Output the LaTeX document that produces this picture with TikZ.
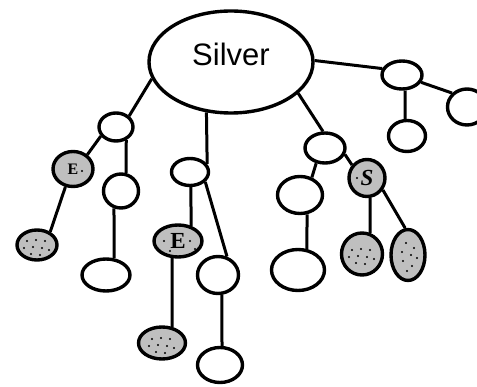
\documentclass[tikz,border=0pt]{standalone}
\usepackage{fontspec}
\setmainfont{Liberation Serif}
\newfontfamily\silverfont{Liberation Sans}
\usetikzlibrary{shapes.geometric}
\tikzstyle{knot}=[ellipse, draw, line width=3.4pt, inner sep=0pt, fill=white]
\tikzstyle{greyknot}=[knot, fill=black!25]
\tikzset{specks/.style={path picture={
    \foreach \dx/\dy in {#1}
        \fill[black] (path picture bounding box.center) ++(\dx,\dy) circle (1.1pt);}},
    manyspecks/.style={specks={-10/-4, -1/-5, 8/-4, -13/3, -4/2, 5/3, 12/5, -6/9, 3/10}}}
\newcommand{\knot}{\node[knot]}
\newcommand{\greyknot}{\node[greyknot]}

\begin{document}
\begin{tikzpicture}[x=1pt, y=-1pt
    ,every edge/.style={draw, line width=3pt}
]
\useasboundingbox (0,0) rectangle (477,387);
\knot[minimum width=164pt, minimum height=102pt] (silver) at (231,62)
    {\silverfont\fontsize{31}{36}\selectfont\raisebox{-4pt}[0pt][0pt]{Silver}};
% left branch
\knot[minimum width=34pt, minimum height=28pt] (a) at (116,127) {};
\greyknot[minimum width=40pt, minimum height=35pt, specks={9/2}] (e1) at (73,169)
    {\fontsize{16}{18}\selectfont\bfseries E};
\greyknot[minimum width=40pt, minimum height=30pt, manyspecks] (a1) at (37,245) {};
\knot[minimum width=35pt, minimum height=34pt] (b) at (121,191) {};
\knot[minimum width=48pt, minimum height=32pt] (b1) at (106,275) {};
% middle branch
\knot[minimum width=37pt, minimum height=27pt] (c) at (190,172) {};
\greyknot[minimum width=48pt, minimum height=32pt, specks={-14/0, 12/0, -8/10, 17/8}] (e2) at (178,241)
    {\fontsize{23}{26}\selectfont\bfseries E};
\greyknot[minimum width=47pt, minimum height=32pt, manyspecks] (e2d) at (162,343) {};
\knot[minimum width=41pt, minimum height=37pt] (d) at (218,275) {};
\knot[minimum width=45pt, minimum height=35pt] (d1) at (220,365) {};
% right branch
\knot[minimum width=40pt, minimum height=30pt] (f) at (325,148) {};
\greyknot[minimum width=36pt, minimum height=37pt, specks={-10/0}] (s) at (367,178)
    {\fontsize{23}{26}\selectfont\bfseries\itshape S};
\knot[minimum width=45pt, minimum height=37pt] (g) at (300,195) {};
\knot[minimum width=53pt, minimum height=41pt] (g1) at (298,270) {};
\greyknot[minimum width=41pt, minimum height=42pt, manyspecks] (s1) at (362,254) {};
\greyknot[minimum width=34pt, minimum height=51pt, specks={-2/-12, 6/-7, -6/-3, 3/0, 9/3, -5/6, 4/11, -1/16}] (s2) at (408,255) {};
% top right
\knot[minimum width=40pt, minimum height=28pt] (h) at (402,75) {};
\knot[minimum width=37pt, minimum height=31pt] (h1) at (407,136) {};
\knot[minimum width=39pt, minimum height=36pt] (i) at (467,107) {};
\path
(silver.192) edge (a.40)
(silver.244) edge (c.25)
(silver.-25) edge (f.97)
(silver.1) edge (h.162)
(a.211) edge (e1.45)
(a.-52) edge (b.74)
(e1.247) edge (a1.45)
(b.248) edge (b1.64)
(c.-87) edge (e2.49)
(c.-33) edge (d.64)
(e2.251) edge (e2d.58)
(d.-79) edge (d1.84)
(f.-18) edge (s.139)
(f.240) edge (g.56)
(g.-70) edge (g1.67)
(s.-81) edge (s1.69)
(s.-37) edge (s2.96)
(h.-79) edge (h1.96)
(h.-21) edge (i.137)
;
\end{tikzpicture}
\end{document}
